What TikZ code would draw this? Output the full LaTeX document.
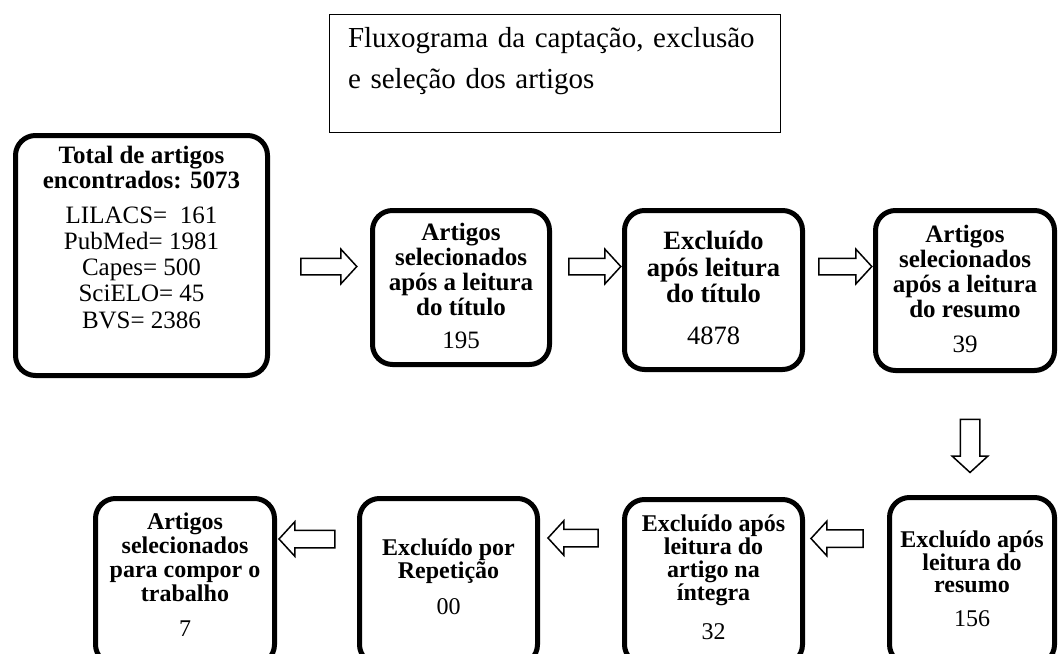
\documentclass[tikz,border=0pt]{standalone}
\usepackage{fontspec}
\setmainfont{Liberation Serif}
\usetikzlibrary{shapes.arrows}
\newcommand{\dpth}[1]{\rule[-#1pt]{0pt}{0pt}}
\begin{document}
\begin{tikzpicture}[x=1pt,y=-1pt,
  box/.style={draw, line width=5pt, rounded corners=20pt, align=center, inner sep=0pt, fill=white},
  titlebox/.style={draw, line width=1.3pt, align=left, inner sep=0pt, text width=414pt,
    minimum width=451pt, minimum height=118pt, font=\fontsize{29}{41}\selectfont},
  fA/.style={font=\fontsize{25}{25}\selectfont\bfseries},
  fB/.style={font=\fontsize{24}{#1}\selectfont\bfseries},
  blockarrow/.style={single arrow, draw, line width=1.5pt, fill=white, inner sep=7.5pt,
    single arrow head extend=9pt, single arrow tip angle=95, minimum width=33pt},
]
\useasboundingbox (0,0) rectangle (1059,653);
\clip (0,0) rectangle (1059,653);

% title
\node[titlebox] (title) at (555,73.5) {Fluxograma da captação, exclusão\\ e seleção dos artigos\dpth{32}};

% top row
\node[box, fA, minimum width=252pt, minimum height=240pt] (b1) at (141.5,255.5)
  {Total de artigos\\ encontrados: 5073\\[10pt]
   \mdseries LILACS=~~161\\[1.25pt]
   \mdseries PubMed= 1981\\[1.25pt]
   \mdseries Capes= 500\\[1.25pt]
   \mdseries SciELO= 45\\[1.25pt]
   \mdseries BVS= 2386\dpth{37}};
\node[box, fA, minimum width=177pt, minimum height=154pt] (b2) at (461,287.5)
  {Artigos\\ selecionados\\ após a leitura\\ do título\\[8pt] \mdseries 195\dpth{4}};
\node[box, font=\fontsize{26.5}{26.5}\selectfont\bfseries, minimum width=178pt, minimum height=159pt] (b3) at (713.5,290)
  {Excluído\\ após leitura\\ do título\\[15.5pt] \mdseries 4878\dpth{3.5}};
\node[box, fA, minimum width=179pt, minimum height=160pt] (b4) at (965,290.5)
  {Artigos\\ selecionados\\ após a leitura\\ do resumo\\[10pt] \mdseries 39\dpth{4}};

% bottom row
\node[box, fB=22.5, minimum width=165pt, minimum height=167pt] (b5) at (972,581)
  {Excluído após\\ leitura do\\ resumo\\[11.5pt] \mdseries 156\dpth{4}};
\node[box, fB=23, minimum width=178pt, minimum height=165pt] (b6) at (713.5,582)
  {Excluído após\\ leitura do\\ artigo na\\ íntegra\\[16pt] \mdseries 32\dpth{9}};
\node[box, fB=21, minimum width=178pt, minimum height=166pt] (b7) at (448.5,581.5)
  {Excluído por\\ Repetição\\[14pt] \mdseries 00\dpth{10}};
\node[box, fB=24, minimum width=179pt, minimum height=166pt] (b8) at (185,581.5)
  {Artigos\\ selecionados\\ para compor o\\ trabalho\\[11pt] \mdseries 7\dpth{13}};

% block arrows
\node[blockarrow, minimum height=56pt] (a1) at (325,266.5) {};
\node[blockarrow, minimum height=52pt] (a2) at (591,266.5) {};
\node[blockarrow, minimum height=53pt] (a3) at (841.5,266.5) {};
\node[blockarrow, minimum height=53pt, inner sep=9pt, single arrow head extend=8pt,
      minimum width=34pt, shape border rotate=270] (a4) at (970,441.5) {};
\node[blockarrow, minimum height=52pt, inner sep=8pt, single arrow head extend=8.5pt,
      shape border rotate=180] (a5) at (841,538.5) {};
\node[blockarrow, minimum height=50pt, inner sep=8pt, single arrow head extend=8.5pt,
      shape border rotate=180] (a6) at (577,538) {};
\node[blockarrow, minimum height=56pt, inner sep=8pt, single arrow head extend=8.5pt,
      shape border rotate=180] (a7) at (311,539) {};
\end{tikzpicture}
\end{document}
